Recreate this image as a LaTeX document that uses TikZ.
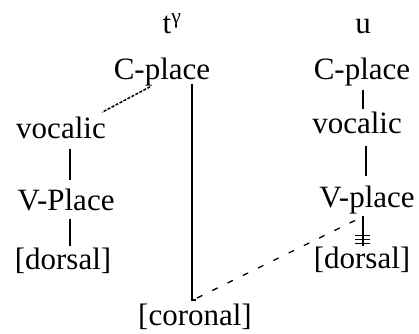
\documentclass[tikz,border=0pt]{standalone}
\usepackage{fontspec}
\setmainfont{Liberation Serif}
\begin{document}
\begin{tikzpicture}[x=1pt,y=-1pt,
  lab/.style={anchor=base,inner sep=0pt,font=\fontsize{31}{36}\selectfont},
  assoc/.style={line width=1.4pt},
  dense/.style={line width=1.5pt,dash pattern=on 3pt off 1.5pt},
  loose/.style={line width=1.3pt,dash pattern=on 6pt off 11pt}]
\useasboundingbox (0,0) rectangle (419,333);
% left column (t^gamma)
\node[lab] (tg)  at (172,33)  {t\textsuperscript{γ}};
\node[lab] (cpl) at (162,79)  {C-place};
\node[lab] (vol) at (61,138)  {vocalic};
\node[lab] (vpl) at (66,210)  {V-Place};
\node[lab] (dol) at (63,269)  {[dorsal]};
\node[lab] (cor) at (195,325) {[coronal]};
% right column (u)
\node[lab] (u)   at (363,33)  {u};
\node[lab] (cpr) at (362,79)  {C-place};
\node[lab] (vor) at (357,133) {vocalic};
\node[lab] (vpr) at (367,207) {V-place};
\node[lab] (dor) at (362,268) {[dorsal]};
% left connectors
\draw[dense] ([xshift=-12pt,yshift=-1pt]cpl.south) -- ([xshift=41pt,yshift=4pt]vol.north);
\draw[assoc,shorten <=10pt,shorten >=8pt] (vol.south -| 70,0) -- (vpl.north -| 70,0);
\draw[assoc,shorten <=8pt,shorten >=1pt] (vpl.south -| 70,0) -- (dol.north -| 70,0);
% C-place to coronal
\coordinate (ctop) at (cpl.south -| 192,0);
\coordinate (cbot) at (192,300);
\draw[assoc] ([yshift=2pt]ctop) -- (cbot) -- ++(4,0);
% right connectors
\draw[assoc,shorten <=4pt,shorten >=2pt] (cpr.south -| 363,0) -- (vor.north -| 363,0);
\draw[assoc,shorten <=12pt,shorten >=9pt] (vor.south -| 366,0) -- (vpr.north -| 366,0);
\draw[assoc,shorten <=2pt,shorten >=0pt] (vpr.south -| 363,0) -- (dor.north -| 363,0);
\foreach \yy in {235,239,243}
  \draw[line width=0.9pt] (355,\yy) -- (370,\yy);
% new association
\draw[loose] (cbot) ++(5,-2) -- (358,219);
\end{tikzpicture}
\end{document}
